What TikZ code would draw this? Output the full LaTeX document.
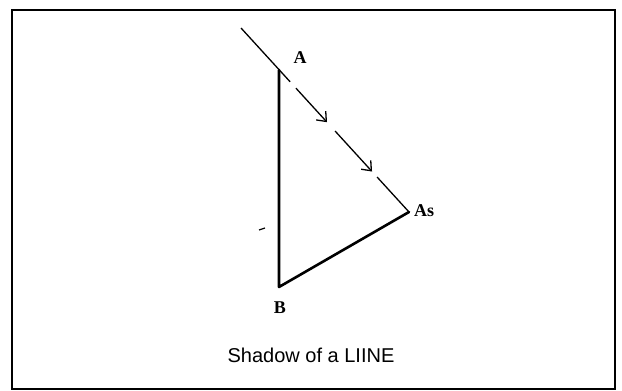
\documentclass[tikz,border=0pt]{standalone}
\usepackage{fontspec}
\setmainfont{Liberation Serif}
\newfontfamily\capfont{Liberation Sans}
\usetikzlibrary{arrows.meta,calc}
\begin{document}
\begin{tikzpicture}[x=1pt,y=-1pt,
  frame/.style={line width=2.2pt},
  thickline/.style={line width=2.6pt,line cap=round,line join=round},
  ray/.style={line width=1.3pt},
  rayarrow/.style={ray,-{Straight Barb[length=8pt,width=13pt,line width=1.3pt]}},
  ptlabel/.style={font=\bfseries\fontsize{18}{20}\selectfont,inner sep=1pt},
  caption/.style={font=\capfont\fontsize{20}{24}\selectfont,inner sep=0pt}]
\useasboundingbox (0,0) rectangle (622,391);
\draw[frame] (12,10) rectangle (615,389);
\coordinate (top) at (241,28);
\coordinate (A) at (279,70);
\coordinate (B) at (279,287);
\coordinate (As) at (409,212);
\coordinate (m1) at ($(top)!0.292!(As)$);
\coordinate (m2) at ($(top)!0.327!(As)$);
\coordinate (m3) at ($(top)!0.512!(As)$);
\coordinate (m4) at ($(top)!0.56!(As)$);
\coordinate (m5) at ($(top)!0.78!(As)$);
\coordinate (m6) at ($(top)!0.81!(As)$);
\draw[ray] (top) -- (m1);
\draw[rayarrow] (m2) -- (m3);
\draw[rayarrow] (m4) -- (m5);
\draw[ray] (m6) -- (As);
\draw[thickline] (A) -- (B) -- (As);
\coordinate (t1) at (259,230);
\coordinate (t2) at (265,228);
\draw[line width=1.2pt] (t1) -- (t2);
\node[ptlabel] (lA) at (300,58) {A};
\node[ptlabel] (lB) at (280,308) {B};
\node[ptlabel,anchor=west] (lAs) at (413,211) {As};
\node[caption] (cap) at (311,355) {Shadow of a LIINE};
\end{tikzpicture}
\end{document}
